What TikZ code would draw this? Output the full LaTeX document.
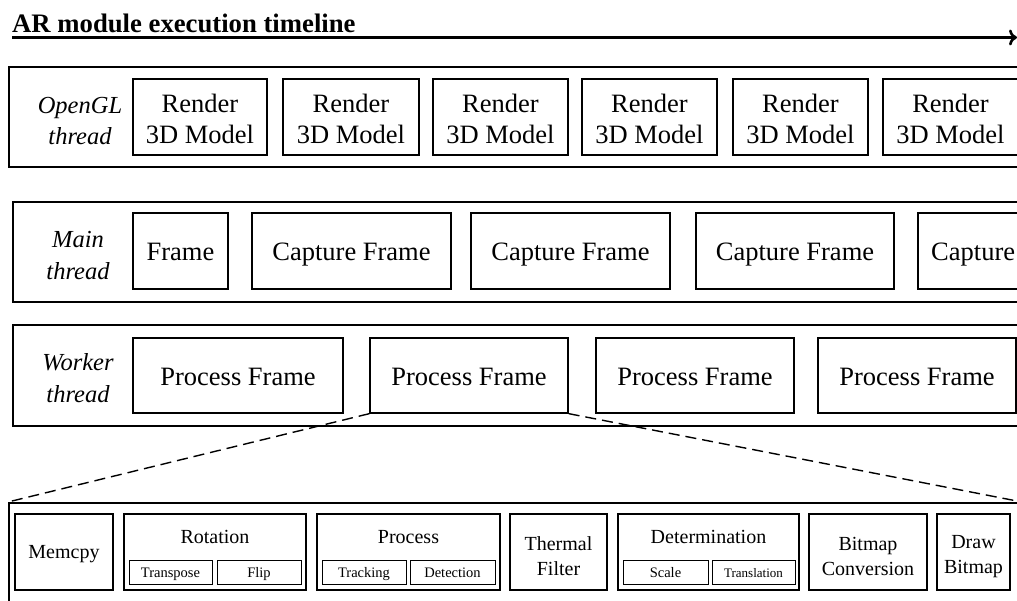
\documentclass[tikz,border=0pt]{standalone}
\usepackage{fontspec}
\setmainfont{Liberation Serif}
\usetikzlibrary{arrows.meta}
\newcommand\upr[1]{\rule{0pt}{#1}}
\tikzset{
  panel/.style={draw, line width=1.6pt, inner sep=0pt, minimum height=100pt},
  tbox/.style={draw, line width=1.3pt, inner sep=0pt, minimum height=76pt, font=\fontsize{26.5}{31}\selectfont, align=center},
  tone/.style={tbox, text height=19pt, text depth=0pt},
  lbl/.style={inner sep=0pt, font=\fontsize{24.5}{31}\itshape\selectfont, align=center},
  sbox/.style={draw, line width=1.3pt, inner sep=0pt, minimum height=76pt, font=\fontsize{20}{25}\selectfont, align=center},
  sone/.style={sbox, text height=13pt, text depth=0pt},
  sub/.style={draw, line width=0.9pt, inner sep=0pt, minimum height=24pt, font=\fontsize{14.5}{16}\selectfont, text height=10pt, text depth=0pt},
  stitle/.style={inner sep=0pt, font=\fontsize{20}{25}\selectfont, anchor=base},
  zoomline/.style={dashed, dash pattern=on 11pt off 6pt, line width=1.4pt},
}
\begin{document}
\begin{tikzpicture}[x=1pt,y=-1pt]
\useasboundingbox (0,0) rectangle (1017,601);
\clip (0,0) rectangle (1017,601);
% title and timeline
\node[anchor=base west, inner sep=0pt, font=\fontsize{26.7}{30}\bfseries\selectfont] (title) at (12,33) {AR module execution timeline};
\coordinate (tl0) at (12,37.5);
\coordinate (tl1) at (1017,37.5);
\draw[line width=2.4pt, -{To[length=8pt,width=16pt,line width=2.6pt]}] (tl0) -- (tl1);

% OpenGL thread
\node[panel, minimum width=1030pt, anchor=west] (p1) at (8,117) {};
\node[lbl] (l1) at (80,118) {\upr{22pt}OpenGL\\thread};
\node[tbox, minimum width=134pt] (r1) at (200,117) {\upr{22pt}Render\\3D Model};
\node[tbox, minimum width=136pt] (r2) at (351,117) {\upr{22pt}Render\\3D Model};
\node[tbox, minimum width=135pt] (r3) at (500.5,117) {\upr{22pt}Render\\3D Model};
\node[tbox, minimum width=135pt] (r4) at (649.5,117) {\upr{22pt}Render\\3D Model};
\node[tbox, minimum width=135pt] (r5) at (800.5,117) {\upr{22pt}Render\\3D Model};
\node[tbox, minimum width=135pt] (r6) at (950.5,117) {\upr{22pt}Render\\3D Model};

% Main thread
\node[panel, minimum width=1030pt, anchor=west] (p2) at (12,252) {};
\node[lbl, font=\fontsize{24.5}{32}\itshape\selectfont] (l2) at (78,253) {\upr{21pt}Main\\thread};
\node[tone, minimum width=95pt] (m1) at (180.5,251) {Frame};
\node[tone, minimum width=199pt] (m2) at (351.5,251) {Capture Frame};
\node[tone, minimum width=199pt] (m3) at (570.5,251) {Capture Frame};
\node[tone, minimum width=198pt] (m4) at (795,251) {Capture Frame};
\node[draw, line width=1.3pt, minimum width=184pt, minimum height=76pt, inner sep=0pt] (m5) at (1010,251) {};
\node[anchor=base west, inner sep=0pt, font=\fontsize{26.5}{31}\selectfont] (m5t) at (931,261) {Capture};

% Worker thread
\node[panel, minimum width=1030pt, minimum height=101pt, anchor=west] (p3) at (12,375.5) {};
\node[lbl, font=\fontsize{24.5}{32}\itshape\selectfont] (l3) at (78,376.5) {\upr{21pt}Worker\\thread};
\node[tone, minimum width=210pt, minimum height=75pt] (w1) at (238,375.5) {Process Frame};
\node[tone, minimum width=198pt, minimum height=75pt] (w2) at (469,375.5) {Process Frame};
\node[tone, minimum width=198pt, minimum height=75pt] (w3) at (695,375.5) {Process Frame};
\node[tone, minimum width=198pt, minimum height=75pt] (w4) at (917,375.5) {Process Frame};

% detail panel
\node[panel, minimum width=1040pt, minimum height=140pt, anchor=north west] (p4) at (8,502) {};
\coordinate (zr) at (1017,501);
\draw[zoomline] (w2.south west) -- (p4.north west);
\draw[zoomline] (w2.south east) -- (zr);

\node[sone, minimum width=98pt] (b1) at (64,552) {Memcpy};
\node[sbox, minimum width=182pt] (b2) at (215,552) {};
\node[stitle] (b2t) at (215,543) {Rotation};
\node[sub, minimum width=83pt] (b2a) at (170.5,572) {Transpose};
\node[sub, minimum width=84pt] (b2b) at (259,572) {Flip};
\node[sbox, minimum width=183pt] (b3) at (408.5,552) {};
\node[stitle] (b3t) at (408.5,543) {Process};
\node[sub, minimum width=84pt] (b3a) at (364,572) {Tracking};
\node[sub, minimum width=85pt] (b3b) at (452.5,572) {Detection};
\node[sbox, minimum width=97pt] (b4) at (558.5,552) {\upr{22pt}Thermal\\Filter};
\node[sbox, minimum width=181pt] (b5) at (708.5,552) {};
\node[stitle] (b5t) at (708.5,543) {Determination};
\node[sub, minimum width=85pt] (b5a) at (665.5,572) {Scale};
\node[sub, minimum width=83pt, font=\fontsize{13}{15}\selectfont] (b5b) at (753.5,572) {Translation};
\node[sbox, minimum width=118pt] (b6) at (868,552) {\upr{22pt}Bitmap\\Conversion};
\node[sbox, minimum width=73pt] (b7) at (973.5,552) {\upr{22pt}Draw\\Bitmap};
\end{tikzpicture}
\end{document}
